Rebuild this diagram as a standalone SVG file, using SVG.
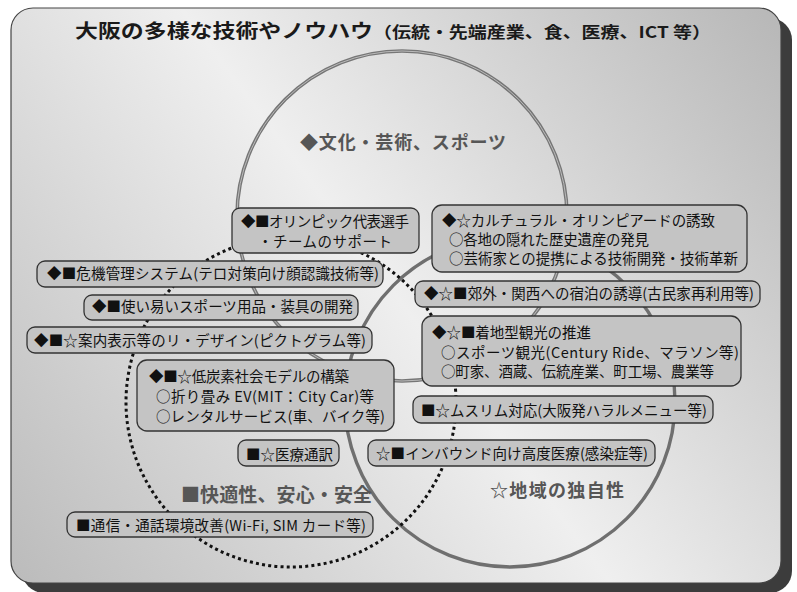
<svg xmlns="http://www.w3.org/2000/svg" width="797" height="592" viewBox="0 0 797 592">
<defs>
<linearGradient id="bg" gradientUnits="userSpaceOnUse" x1="11" y1="583" x2="781" y2="8">
<stop offset="0" stop-color="#bbbbbb"/>
<stop offset="0.5" stop-color="#efefef"/>
<stop offset="1" stop-color="#b7b7b7"/>
</linearGradient>
<style>
.box{fill:#c4c4c4;stroke:#333;stroke-width:1.3}
.t{font-family:"Noto Sans CJK JP","Noto Sans",sans-serif;font-size:14.5px;fill:#111}
.lbl{font-family:"Noto Sans CJK JP","Noto Sans",sans-serif;font-weight:700;fill:#565656}
.ttl{font-family:"Noto Sans CJK JP","Noto Sans",sans-serif;font-weight:700;fill:#1a1a1a}
</style>
</defs>
<rect x="22" y="18" width="770" height="575" rx="22" fill="#3c3c3c"/>
<rect x="11" y="8" width="770" height="575" rx="22" fill="url(#bg)" stroke="#444" stroke-width="1.2"/>
<text class="ttl" x="75" y="38" font-size="19" textLength="298" lengthAdjust="spacingAndGlyphs">大阪の多様な技術やノウハウ</text>
<text class="ttl" x="373" y="38" font-size="16" textLength="338" lengthAdjust="spacingAndGlyphs">（伝統・先端産業、食、医療、ICT 等）</text>
<g id="connectors">
<circle cx="402" cy="216" r="165" fill="none" stroke="#767676" stroke-width="3.6"/>
<circle cx="402" cy="216" r="165" fill="none" stroke="#c2c2c2" stroke-width="0.9"/>
<circle cx="510" cy="402" r="165" fill="none" stroke="#6f6f6f" stroke-width="3.4"/>
<circle cx="291" cy="402" r="165" fill="none" stroke="#111" stroke-width="3" stroke-dasharray="3 3.2"/>
</g>
<g id="label-culture"><text class="lbl" x="300" y="149" font-size="18" textLength="206">◆文化・芸術、スポーツ</text></g>
<g id="label-comfort"><text class="lbl" x="181" y="502" font-size="19" textLength="191">■快適性、安心・安全</text></g>
<g id="label-region"><text class="lbl" x="490" y="497" font-size="18" textLength="134">☆地域の独自性</text></g>
<g id="b1"><rect class="box" x="232" y="208" width="187" height="45" rx="8"/>
<text class="t" x="241" y="227" textLength="168">◆■オリンピック代表選手</text>
<text class="t" x="258" y="247" textLength="134">・チームのサポート</text></g>
<g id="b2"><rect class="box" x="37" y="261" width="346" height="26" rx="8"/>
<text class="t" x="47" y="279" textLength="332">◆■危機管理システム(テロ対策向け顔認識技術等)</text></g>
<g id="b3"><rect class="box" x="84" y="295" width="274" height="25" rx="8"/>
<text class="t" x="92" y="312" textLength="261">◆■使い易いスポーツ用品・装具の開発</text></g>
<g id="b4"><rect class="box" x="27" y="327" width="345" height="26" rx="8"/>
<text class="t" x="34" y="346" textLength="332">◆■☆案内表示等のリ・デザイン(ピクトグラム等)</text></g>
<g id="b5"><rect class="box" x="432" y="205" width="315" height="67" rx="10"/>
<text class="t" x="442" y="226" textLength="273">◆☆カルチュラル・オリンピアードの誘致</text>
<text class="t" x="449" y="245" textLength="200">○各地の隠れた歴史遺産の発見</text>
<text class="t" x="449" y="264" textLength="289">○芸術家との提携による技術開発・技術革新</text></g>
<g id="b6"><rect class="box" x="415" y="281" width="345" height="26" rx="8"/>
<text class="t" x="424" y="299" textLength="330">◆☆■郊外・関西への宿泊の誘導(古民家再利用等)</text></g>
<g id="b7"><rect class="box" x="422" y="316" width="319" height="70" rx="10"/>
<text class="t" x="432" y="338" textLength="159">◆☆■着地型観光の推進</text>
<text class="t" x="441" y="358" textLength="298">○スポーツ観光(Century Ride、マラソン等)</text>
<text class="t" x="441" y="377" textLength="273">○町家、酒蔵、伝統産業、町工場、農業等</text></g>
<g id="b8"><rect class="box" x="137" y="360" width="257" height="71" rx="10"/>
<text class="t" x="149" y="382" textLength="200">◆■☆低炭素社会モデルの構築</text>
<text class="t" x="156" y="402" textLength="218">○折り畳み EV(MIT：City Car)等</text>
<text class="t" x="156" y="422" textLength="229">○レンタルサービス(車、バイク等)</text></g>
<g id="b9"><rect class="box" x="238" y="440" width="101" height="26" rx="8"/>
<text class="t" x="246" y="460" textLength="87">■☆医療通訳</text></g>
<g id="b10"><rect class="box" x="67" y="512" width="306" height="25" rx="8"/>
<text class="t" x="76" y="531" textLength="290">■通信・通話環境改善(Wi-Fi, SIM カード等)</text></g>
<g id="b11"><rect class="box" x="413" y="396" width="300" height="27" rx="8"/>
<text class="t" x="421" y="416" textLength="286">■☆ムスリム対応(大阪発ハラルメニュー等)</text></g>
<g id="b12"><rect class="box" x="368" y="440" width="287" height="26" rx="8"/>
<text class="t" x="376" y="459" textLength="272">☆■インバウンド向け高度医療(感染症等)</text></g>
</svg>
